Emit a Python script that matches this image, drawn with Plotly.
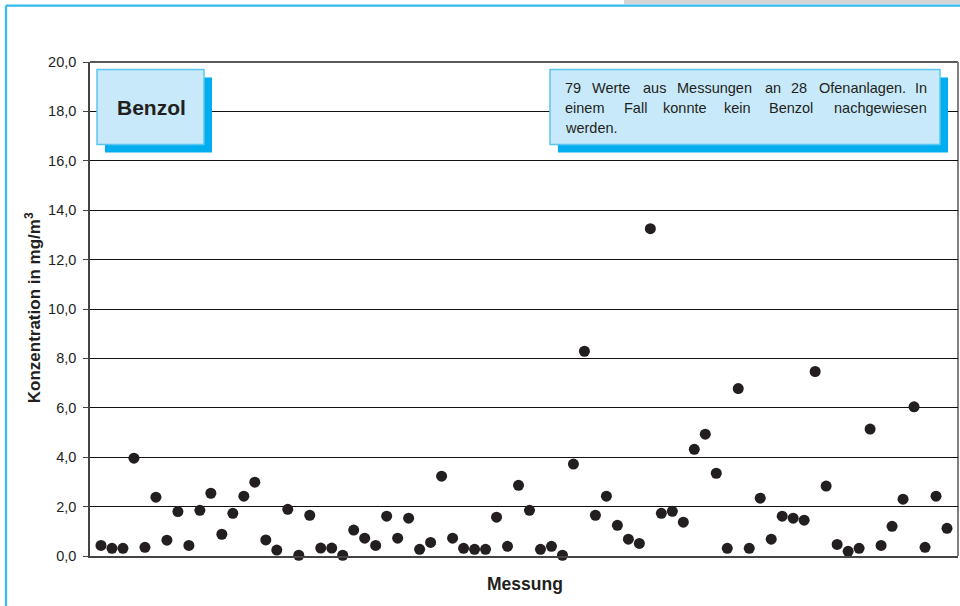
import plotly.graph_objects as go

# ---------------- data ----------------
measurement_no = list(range(1, 79))
benzol_mg_m3 = [
    0.43, 0.31, 0.31, 3.96, 0.35, 2.38, 0.64, 1.80, 0.43, 1.85,
    2.54, 0.88, 1.73, 2.42, 2.99, 0.65, 0.24, 1.89, 0.03, 1.65,
    0.32, 0.32, 0.03, 1.05, 0.72, 0.43, 1.61, 0.72, 1.53, 0.27,
    0.55, 3.23, 0.72, 0.31, 0.27, 0.27, 1.57, 0.39, 2.86, 1.85,
    0.27, 0.39, 0.03, 3.72, 8.29, 1.65, 2.42, 1.24, 0.68, 0.51,
    13.25, 1.73, 1.81, 1.37, 4.32, 4.93, 3.35, 0.31, 6.78, 0.31,
    2.34, 0.68, 1.61, 1.53, 1.45, 7.47, 2.83, 0.47, 0.19, 0.31,
    5.14, 0.43, 1.20, 2.30, 6.04, 0.35, 2.42, 1.12,
]
y_ticks = [0, 2, 4, 6, 8, 10, 12, 14, 16, 18, 20]
x_range = [0, 79]
y_range = [0, 20]

title_box = "Benzol"
note_lines = [
    ["79", "Werte", "aus", "Messungen", "an", "28", "Ofenanlagen.", "In"],
    ["einem", "Fall", "konnte", "kein", "Benzol", "nachgewiesen"],
    ["werden."],
]
y_title = "Konzentration in mg/m<sup>3</sup>"
x_title = "Messung"

# ---------------- layout helpers (pixel -> paper) ----------------
W, H = 960, 606
L, R, T, B = 90, 958, 61.5, 556
FONT = "Liberation Sans, Arial, Helvetica, sans-serif"


def px(x):
    return (x - L) / (R - L)


def py(y):
    return (B - y) / (B - T)


fig = go.Figure()
fig.add_trace(go.Scatter(
    x=measurement_no, y=benzol_mg_m3, mode="markers",
    marker=dict(size=11, color="#231F20", line=dict(width=0)),
    cliponaxis=False, showlegend=False, hoverinfo="x+y",
))

shapes = []
# outer frame
shapes.append(dict(type="rect", xref="paper", yref="paper",
                   x0=px(624), x1=px(962), y0=py(-2), y1=py(3.5),
                   fillcolor="#D6D6D6", line=dict(width=0), layer="below"))
shapes.append(dict(type="line", xref="paper", yref="paper",
                   x0=px(6), x1=px(962), y0=py(5), y1=py(5),
                   line=dict(color="#35B9EE", width=2.2), layer="below"))
shapes.append(dict(type="line", xref="paper", yref="paper",
                   x0=px(6), x1=px(6), y0=py(5), y1=py(610),
                   line=dict(color="#35B9EE", width=2.2), layer="below"))
# plot frame top / right
shapes.append(dict(type="line", xref="paper", yref="paper",
                   x0=0, x1=1, y0=1, y1=1,
                   line=dict(color="#222222", width=1.3), layer="below"))
shapes.append(dict(type="line", xref="paper", yref="paper",
                   x0=1, x1=1, y0=0, y1=1,
                   line=dict(color="#808080", width=2), layer="below"))


def box(x0, y0, x1, y1):
    # shadow
    shapes.append(dict(type="rect", xref="paper", yref="paper",
                       x0=px(x0 + 8), x1=px(x1 + 8), y0=py(y1 + 8), y1=py(y0 + 8),
                       fillcolor="#00AEEF", line=dict(width=0)))
    shapes.append(dict(type="rect", xref="paper", yref="paper",
                       x0=px(x0), x1=px(x1), y0=py(y1), y1=py(y0),
                       fillcolor="#C7E9F9", line=dict(color="#5CC6F0", width=1.5)))


box(97, 69, 204, 144)
box(550, 69, 940, 144)

annotations = []
annotations.append(dict(text="<b>%s</b>" % title_box, xref="paper", yref="paper",
                        x=px(151), y=py(107), xanchor="center", yanchor="middle",
                        showarrow=False, font=dict(family=FONT, size=21, color="#231F20")))

# justified note text, placed word by word
word_x = [
    [563, 590, 641, 675, 763, 789, 817, 929],
    [563, 622, 661, 722, 767, 929],
    [563],
]
line_y = [88, 108, 128]
for words, xs, yy in zip(note_lines, word_x, line_y):
    n = len(words)
    for i, (w, xx) in enumerate(zip(words, xs)):
        last = (i == n - 1) and n > 1
        annotations.append(dict(text=w, xref="paper", yref="paper",
                                x=px(xx), y=py(yy),
                                xanchor="right" if last else "left", yanchor="middle",
                                showarrow=False,
                                font=dict(family=FONT, size=14.5, color="#231F20")))

annotations.append(dict(text="<b>%s</b>" % y_title, xref="paper", yref="paper",
                        x=px(33), y=py(308), xanchor="center", yanchor="middle",
                        textangle=-90, showarrow=False,
                        font=dict(family=FONT, size=17, color="#231F20")))
annotations.append(dict(text="<b>%s</b>" % x_title, xref="paper", yref="paper",
                        x=px(525), y=py(584), xanchor="center", yanchor="middle",
                        showarrow=False,
                        font=dict(family=FONT, size=17.5, color="#231F20")))

fig.update_layout(
    width=W, height=H,
    margin=dict(l=L, r=W - R, t=T, b=H - B, pad=0),
    paper_bgcolor="white", plot_bgcolor="white",
    separators=",.",
    font=dict(family=FONT, size=14, color="#231F20"),
    shapes=shapes, annotations=annotations,
    xaxis=dict(range=x_range, showgrid=False, zeroline=False,
               showticklabels=False, ticks="",
               showline=True, linecolor="#444444", linewidth=1.5),
    yaxis=dict(range=y_range, tickvals=y_ticks, tickformat=".1f",
               showgrid=True, gridcolor="#111111", gridwidth=1.2,
               zeroline=False, showline=True, linecolor="#444444", linewidth=1.5,
               ticks="outside", ticklen=5, tickcolor="#444444", tickwidth=1,
               ticklabelstandoff=4,
               tickfont=dict(family=FONT, size=14.5, color="#231F20")),
)

fig.write_html(
    "out.html",
    config={"displayModeBar": False},
    post_script="document.body.style.margin='0';document.body.style.padding='0';",
)
